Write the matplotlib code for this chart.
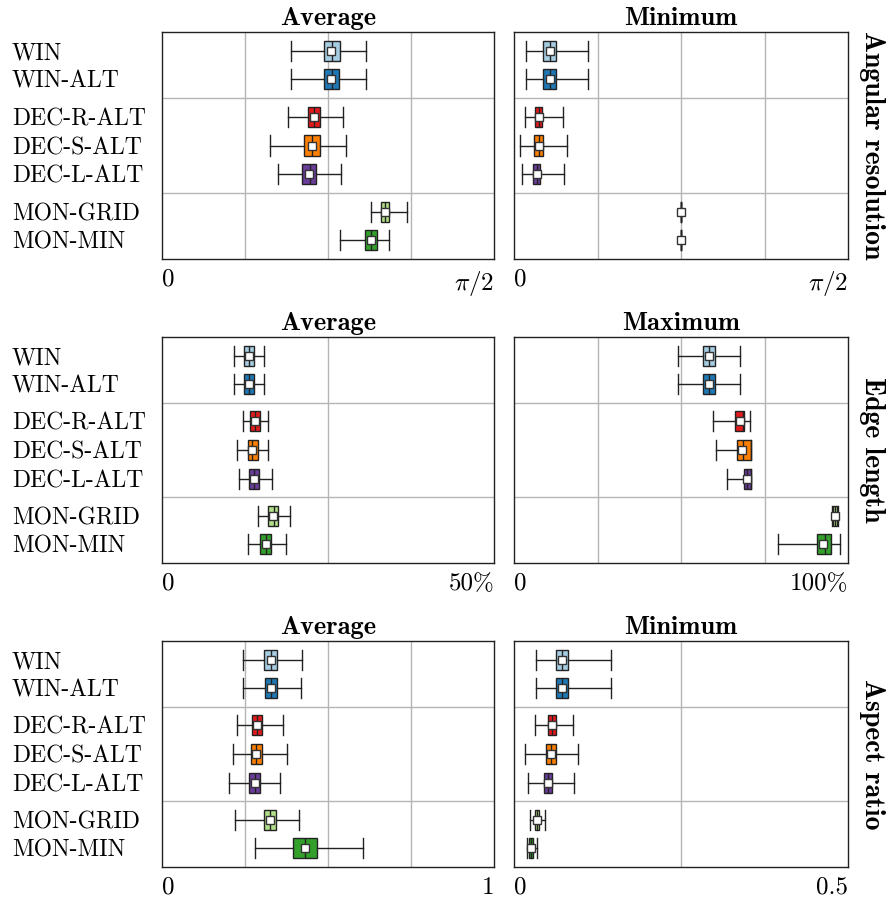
import numpy as np
import matplotlib
matplotlib.use("Agg")
import matplotlib.pyplot as plt

plt.rcParams["font.family"] = ["cmr10", "DejaVu Serif"]
plt.rcParams["mathtext.fontset"] = "cm"
plt.rcParams["axes.unicode_minus"] = False

# Категории и цвета
methods = ["WIN", "WIN-ALT", "DEC-R-ALT", "DEC-S-ALT", "DEC-L-ALT", "MON-GRID", "MON-MIN"]
colors = ["#a6cee3", "#1f78b4", "#e31a1c", "#ff7f00", "#6a3d9a", "#b2df8a", "#33a02c"]
positions = [0, 1, 2.3, 3.3, 4.3, 5.6, 6.6]

# (низ уса, Q1, медиана, Q3, верх уса, среднее)
ang_avg = [
    (0.609, 0.765, 0.803, 0.840, 0.966, 0.801),
    (0.609, 0.767, 0.803, 0.839, 0.966, 0.801),
    (0.594, 0.693, 0.719, 0.748, 0.858, 0.721),
    (0.512, 0.672, 0.710, 0.746, 0.869, 0.708),
    (0.547, 0.664, 0.701, 0.730, 0.848, 0.697),
    (0.991, 1.038, 1.057, 1.074, 1.159, 1.057),
    (0.844, 0.961, 0.990, 1.019, 1.076, 0.988),
]
ang_min = [
    (0.058, 0.135, 0.167, 0.196, 0.346, 0.167),
    (0.058, 0.138, 0.167, 0.196, 0.346, 0.167),
    (0.050, 0.101, 0.116, 0.132, 0.231, 0.116),
    (0.030, 0.094, 0.116, 0.138, 0.250, 0.118),
    (0.039, 0.090, 0.107, 0.124, 0.237, 0.107),
    (0.785, 0.785, 0.785, 0.785, 0.785, 0.785),
    (0.785, 0.785, 0.785, 0.785, 0.785, 0.785),
]
edge_avg = [
    (10.8, 12.4, 13.1, 13.9, 15.4, 13.1),
    (10.8, 12.4, 13.1, 13.9, 15.4, 13.1),
    (12.2, 13.3, 14.0, 14.7, 15.9, 14.0),
    (11.3, 12.9, 13.6, 14.4, 16.0, 13.6),
    (11.6, 13.1, 13.8, 14.6, 16.5, 13.8),
    (14.4, 15.9, 16.8, 17.5, 19.3, 16.7),
    (13.0, 14.8, 15.6, 16.4, 18.7, 15.6),
]
edge_max = [
    (49.2, 56.5, 58.3, 60.1, 67.7, 58.3),
    (49.2, 56.5, 58.3, 60.1, 67.7, 58.3),
    (59.5, 66.2, 68.6, 69.0, 70.7, 67.6),
    (60.6, 66.8, 68.7, 70.9, 71.0, 68.4),
    (63.8, 69.0, 69.9, 70.9, 70.9, 69.9),
    (95.3, 95.5, 96.2, 96.7, 96.9, 96.2),
    (79.0, 90.7, 93.0, 94.9, 97.5, 92.5),
]
asp_avg = [
    (0.245, 0.308, 0.327, 0.346, 0.422, 0.327),
    (0.245, 0.309, 0.327, 0.346, 0.420, 0.328),
    (0.226, 0.271, 0.286, 0.301, 0.365, 0.285),
    (0.213, 0.267, 0.283, 0.300, 0.376, 0.283),
    (0.203, 0.263, 0.281, 0.296, 0.356, 0.279),
    (0.221, 0.306, 0.325, 0.343, 0.414, 0.325),
    (0.280, 0.396, 0.432, 0.467, 0.606, 0.432),
]
asp_min = [
    (0.0335, 0.063, 0.072, 0.0805, 0.145, 0.072),
    (0.0335, 0.0635, 0.072, 0.0805, 0.1445, 0.072),
    (0.031, 0.0505, 0.0565, 0.0625, 0.088, 0.0565),
    (0.0165, 0.0475, 0.0555, 0.0635, 0.096, 0.0555),
    (0.0215, 0.0445, 0.051, 0.0575, 0.0895, 0.051),
    (0.0235, 0.0315, 0.0345, 0.0375, 0.046, 0.0345),
    (0.020, 0.022, 0.025, 0.028, 0.034, 0.025),
]

row_titles = ["Angular resolution", "Edge length", "Aspect ratio"]
col_titles = [["Average", "Minimum"], ["Average", "Maximum"], ["Average", "Minimum"]]
panels = [[ang_avg, ang_min], [edge_avg, edge_max], [asp_avg, asp_min]]
xmax = [[np.pi / 2, np.pi / 2], [50, 100], [1, 0.5]]
xend_labels = [[r"$\pi/2$", r"$\pi/2$"], ["50%", "100%"], ["1", "0.5"]]
ngrid = [[4, 4], [2, 4], [4, 2]]

fig = plt.figure(figsize=(8.92, 8.99), dpi=100)
W, H = 892, 899
lefts = [162, 514]
widths = [332, 334]
tops = [32, 337, 641]
heights = [227, 226, 226]
bold = ["cmb10", "DejaVu Serif"]

for r in range(3):
    for c in range(2):
        ax = fig.add_axes([lefts[c] / W, 1 - (tops[r] + heights[r]) / H,
                           widths[c] / W, heights[r] / H])
        data = panels[r][c]
        stats = []
        for m, d in zip(methods, data):
            stats.append(dict(label=m, whislo=d[0], q1=d[1], med=d[2], q3=d[3],
                              whishi=d[4], mean=d[5], fliers=[]))
        bp = ax.bxp(stats, positions=positions, vert=False, widths=0.7,
                    patch_artist=True, showmeans=True, capwidths=0.7,
                    boxprops=dict(edgecolor="#222222", linewidth=1),
                    medianprops=dict(color="#222222", linewidth=1),
                    whiskerprops=dict(color="#222222", linewidth=1),
                    capprops=dict(color="#222222", linewidth=1),
                    meanprops=dict(marker="s", markerfacecolor="white",
                                   markeredgecolor="#333333", markersize=5.5,
                                   markeredgewidth=1))
        for patch, col in zip(bp["boxes"], colors):
            patch.set_facecolor(col)

        xm = xmax[r][c]
        ax.set_xlim(0, xm)
        ax.set_ylim(7.25, -0.65)
        for k in range(1, ngrid[r][c]):
            ax.axvline(xm * k / ngrid[r][c], color="#b5b5b5", lw=1, zorder=0)
        for ysep in [1.65, 4.95]:
            ax.axhline(ysep, color="#b5b5b5", lw=1, zorder=0)

        ax.set_xticks([0, xm])
        ax.set_xticklabels(["0", xend_labels[r][c]], fontsize=18)
        labs = ax.get_xticklabels()
        labs[0].set_ha("left")
        labs[1].set_ha("right")
        ax.tick_params(axis="x", length=0, pad=7)

        if c == 0:
            ax.set_yticks(positions)
            ax.set_yticklabels(methods, fontsize=17, ha="left")
            ax.tick_params(axis="y", length=0, pad=108)
        else:
            ax.set_yticks([])

        for s in ax.spines.values():
            s.set_color("#222222")
            s.set_linewidth(1)

        ax.set_title(col_titles[r][c], fontsize=19, family=bold, pad=5)
        if c == 1:
            ax.text(1.073, 0.5, row_titles[r], transform=ax.transAxes, rotation=270,
                    ha="center", va="center", fontsize=20, family=bold)

fig.savefig("out.png", dpi=100)
